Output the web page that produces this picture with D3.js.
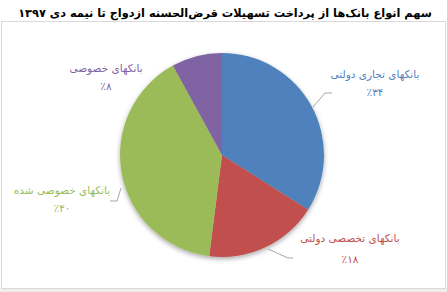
<!DOCTYPE html>
<html><head><meta charset="utf-8">
<script src="https://cdn.jsdelivr.net/npm/d3@7"></script>
<style>
html,body{margin:0;padding:0;background:#fff;}
svg{display:block;}
</style></head>
<body>
<svg id="c" width="447" height="292"></svg>
<script>
const title = "سهم انواع بانک‌ها از پرداخت تسهیلات قرض‌الحسنه ازدواج تا نیمه دی ۱۳۹۷";
const categories = ["بانکهای تجاری دولتی", "بانکهای تخصصی دولتی", "بانکهای خصوصی شده", "بانکهای خصوصی"];
const values = [34, 18, 40, 8];
const valueLabels = ["٪۳۴", "٪۱۸", "٪۴۰", "٪۸"];
const colors = ["#4F81BD", "#C0504D", "#9BBB59", "#8064A2"];

const svg = d3.select("#c");
svg.append("rect").attr("x",0).attr("y",288.5).attr("width",447).attr("height",4).attr("fill","#eeeeee");
svg.append("rect").attr("x",1.5).attr("y",21.5).attr("width",444).attr("height",267)
  .attr("fill","#fff").attr("stroke","#d9d9d9").attr("stroke-width",1);

const tt = svg.append("text").attr("x",225).attr("y",17).attr("text-anchor","middle")
  .attr("font-family","DejaVu Sans").attr("font-weight","bold").attr("font-size",13)
  .attr("fill","#000").text(title);
const w = tt.node().getComputedTextLength();
tt.attr("font-size", 13 * 414 / w);

const defs = svg.append("defs");
const f = defs.append("filter").attr("id","sh").attr("x","-20%").attr("y","-20%").attr("width","140%").attr("height","140%");
f.append("feGaussianBlur").attr("in","SourceAlpha").attr("stdDeviation",2.5);
f.append("feOffset").attr("dx",0).attr("dy",2).attr("result","b");
f.append("feComponentTransfer").append("feFuncA").attr("type","linear").attr("slope",0.35);
const m = f.append("feMerge"); m.append("feMergeNode"); m.append("feMergeNode").attr("in","SourceGraphic");

const cx = 222, cy = 155, r = 102;
const pie = d3.pie().sort(null).value(d=>d);
const arcs = pie(values);
const arc = d3.arc().innerRadius(0).outerRadius(r);
const g = svg.append("g").attr("transform",`translate(${cx},${cy})`);
g.append("g").attr("filter","url(#sh)").selectAll("path").data(arcs).join("path")
  .attr("d",arc).attr("fill",(d,i)=>colors[i]);

const labelPos = [[153,-77],[128,87],[-160,39],[-116,-83]];
const gaps = [18,21,18,18];
const fontFam = "DejaVu Sans";
arcs.forEach((a,i)=>{
  const [lx,ly] = labelPos[i];
  const t = g.append("text").attr("text-anchor","middle").attr("font-family",fontFam)
    .attr("font-size",10.5).attr("fill",colors[i]);
  t.append("tspan").attr("x",lx).attr("y",ly).text(categories[i]);
  t.append("tspan").attr("x",lx).attr("y",ly+gaps[i]).text(valueLabels[i]);
});
const leaders = [
  [[110,-62],[103,-62],[91,-48]],
  [[71,103],[66,103],[46,94]],
  [[-112,46],[-105,46],[-101,33]]
];
leaders.forEach(p=>{
  g.append("path").attr("d",d3.line()(p)).attr("fill","none").attr("stroke","#a6a6a6").attr("stroke-width",1);
});
</script>
</body></html>
